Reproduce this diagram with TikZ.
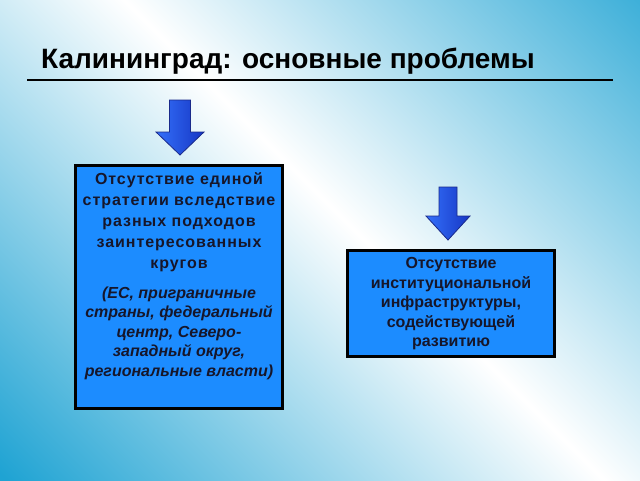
\documentclass[tikz,border=0pt]{standalone}
\usepackage{fontspec}
\setmainfont{Liberation Sans}
\definecolor{bgblue}{HTML}{1FA3D3}
\definecolor{boxblue}{HTML}{1C8CFF}
\definecolor{txt}{HTML}{16162A}
\definecolor{arrowlight}{HTML}{3470FA}
\definecolor{arrowdark}{HTML}{1636C4}
\definecolor{arrowline}{HTML}{1A2A8A}
\begin{document}
\begin{tikzpicture}[x=1pt,y=-1pt,
  problembox/.style={draw=black, line width=3pt, fill=boxblue, inner sep=0pt},
  boldtext/.style={text=txt, font=\fontsize{16}{21}\selectfont\bfseries\addfontfeature{LetterSpace=6}, align=center, inner sep=0pt},
  italtext/.style={text=txt, font=\fontsize{16}{19.5}\selectfont\bfseries\itshape, align=center, inner sep=0pt},
  righttext/.style={text=txt, font=\fontsize{16}{19.5}\selectfont\bfseries, align=center, inner sep=0pt},
  downarrow/.style={left color=arrowlight, right color=arrowdark, draw=arrowline, line width=0.8pt, line join=miter}]
\useasboundingbox (0,0) rectangle (640,480);
\begin{scope}
\clip (0,0) rectangle (640,480);
\shade[top color=bgblue, bottom color=bgblue, middle color=white, shading angle=-45] (-61,-185) rectangle (789,665);
\end{scope}
% title
\node[anchor=base west, inner sep=0pt, font=\fontsize{28}{28}\selectfont\bfseries] (title) at (41,68) {Калининград: основные проблемы};
\coordinate (rulel) at (27,80);
\coordinate (ruler) at (613,80);
\draw[line width=2.5pt] (rulel) -- (ruler);
% arrows
\draw[downarrow] (169.5,100) -- (190.5,100) -- (190.5,132) -- (204,132) -- (180,155) -- (156,132) -- (169.5,132) -- cycle;
\draw[downarrow] (439,187) -- (457,187) -- (457,216) -- (470,216) -- (448,240) -- (426,216) -- (439,216) -- cycle;
% boxes
\node[problembox, minimum width=207pt, minimum height=243pt] (leftbox) at (179,287) {};
\node[problembox, minimum width=207pt, minimum height=106pt] (rightbox) at (451,303.5) {};
% texts
\node[boldtext] (lefttitle) at (179,222.5) {Отсутствие единой\\стратегии вследствие\\разных подходов\\заинтересованных\\кругов};
\node[italtext] (leftnote) at (179,333) {(ЕС, приграничные\\страны, федеральный\\центр, Северо-\\западный округ,\\региональные власти)};
\node[righttext] (righttitle) at (451,304) {Отсутствие\\институциональной\\инфраструктуры,\\содействующей\\развитию};
\end{tikzpicture}
\end{document}
